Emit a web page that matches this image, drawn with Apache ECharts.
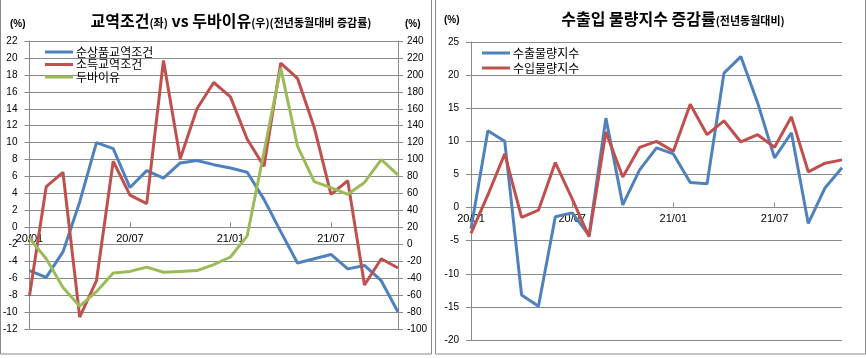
<!DOCTYPE html>
<html><head><meta charset="utf-8">
<script src="https://cdn.jsdelivr.net/npm/echarts@6/dist/echarts.min.js"></script>
<style>html,body{margin:0;padding:0;background:#fff;}#c{width:866px;height:358px;}</style>
</head><body><div id="c"></div>
<script>
const categories = ['20/01','20/02','20/03','20/04','20/05','20/06','20/07','20/08','20/09','20/10','20/11','20/12',
  '21/01','21/02','21/03','21/04','21/05','21/06','21/07','21/08','21/09','21/10','21/11'];
// Left chart
const netTerms   = [-5.1,-5.9,-2.9,3.0,10.0,9.3,4.7,6.7,5.8,7.6,7.9,7.4,7.0,6.5,3.3,-0.5,-4.2,-3.7,-3.2,-4.9,-4.5,-6.3,-10.0];
const incomeTerms= [-8.1,4.8,6.5,-10.6,-6.3,7.8,3.8,2.8,19.7,8.1,14.0,17.1,15.4,10.4,7.2,19.4,17.6,11.8,3.9,5.5,-6.8,-3.7,-4.8];
const dubai      = [7,-17,-51,-73,-56,-34,-32,-27,-33,-32,-31,-24,-15,10,109,208,116,74,67,59,73,100,82];
const leftTicks  = {min:-12, max:22, interval:2};
const rightTicks = {min:-100, max:240, interval:20};
// Right chart
const exportVol  = [-3.2,11.6,10.0,-13.2,-14.9,-1.4,-0.8,-4.2,13.5,0.4,5.7,9.0,8.1,3.8,3.6,20.3,22.8,15.8,7.5,11.3,-2.4,3.0,6.0];
const importVol  = [-3.9,1.9,8.1,-1.5,-0.4,6.8,1.3,-4.4,11.4,4.6,9.1,10.0,8.5,15.6,11.0,13.1,9.9,11.0,9.1,13.7,5.4,6.7,7.2];
const volTicks   = {min:-20, max:25, interval:5};
const seriesNamesL = ['순상품교역조건','소득교역조건','두바이유'];
const seriesNamesR = ['수출물량지수','수입물량지수'];

const BLUE='#4F81BD', RED='#C0504D', GREEN='#9BBB59', GRID='#8a8a8a';
const numFont = 'Liberation Sans';
const krFont = 'Noto Sans CJK KR';
const W=866, H=358;
const g0 = {left:28, right:468, top:41, bottom:29};
const g1 = {left:471, right:24, top:42, bottom:18};
// place the category axis at the value 0 of the grid's primary value axis
const zeroOffset = (g, t) => -((0 - t.min) / (t.max - t.min)) * (H - g.top - g.bottom);

const chart = echarts.init(document.getElementById('c'), null, {renderer:'canvas'});
const catAxis = (gi, off) => ({
  type:'category', gridIndex:gi, data:categories, boundaryGap:false, position:'bottom', offset:off,
  axisLine:{onZero:false, lineStyle:{color:GRID,width:1}},
  axisTick:{inside:true, interval:5, length:5, alignWithLabel:true, lineStyle:{color:GRID}},
  axisLabel:{interval:5, color:'#000', fontSize:11, fontFamily:numFont, margin:6},
  splitLine:{show:false}
});
const line = (name, data, color, xi, yi) => ({
  name, type:'line', data, xAxisIndex:xi, yAxisIndex:yi, showSymbol:false, symbol:'none',
  lineStyle:{color, width:3}, itemStyle:{color}, animation:false
});
chart.setOption({
  animation:false,
  textStyle:{fontFamily:krFont},
  title:[
    {text:'{a|교역조건}{b|(좌)}{a| vs 두바이유}{b|(우)(전년동월대비 증감률)}', left:226, top:8, textAlign:'center',
     textStyle:{rich:{a:{fontSize:16,fontWeight:'bold',fontFamily:krFont,color:'#000'},b:{fontSize:11,fontFamily:krFont,color:'#000',padding:[3,0,0,0]}}}},
    {text:'{a|수출입 물량지수 증감률}{b|(전년동월대비)}', left:668, top:6, textAlign:'center',
     textStyle:{rich:{a:{fontSize:16,fontFamily:krFont,fontWeight:'bold',color:'#000'},b:{fontSize:11,fontFamily:krFont,fontWeight:'bold',color:'#000',padding:[3,0,0,0]}}}}
  ],
  legend:[
    {data:seriesNamesL, orient:'vertical', left:40, top:41, itemWidth:28, itemHeight:3, itemGap:0.5, icon:'rect',
     textStyle:{fontSize:12, fontFamily:krFont, color:'#000', padding:[0,0,0,-2]}},
    {data:seriesNamesR, orient:'vertical', left:477, top:42, itemWidth:28, itemHeight:3, itemGap:3, icon:'rect',
     textStyle:{fontSize:12, fontFamily:krFont, color:'#000', padding:[0,0,0,-2]}}
  ],
  grid:[g0, g1],
  xAxis:[catAxis(0, zeroOffset(g0, leftTicks)), catAxis(1, zeroOffset(g1, volTicks))],
  yAxis:[
    {type:'value', gridIndex:0, min:leftTicks.min, max:leftTicks.max, interval:leftTicks.interval,
     axisLine:{show:true, onZero:false, lineStyle:{color:GRID}}, axisTick:{show:true, length:5, lineStyle:{color:GRID}},
     axisLabel:{color:'#000', fontSize:10, fontFamily:numFont, margin:12},
     splitLine:{lineStyle:{color:GRID, width:1}}},
    {type:'value', gridIndex:0, min:rightTicks.min, max:rightTicks.max, interval:rightTicks.interval, position:'right',
     axisLine:{show:true, onZero:false, lineStyle:{color:GRID}}, axisTick:{show:true, length:5, lineStyle:{color:GRID}},
     axisLabel:{color:'#000', fontSize:10, fontFamily:numFont, margin:9},
     splitLine:{show:false}},
    {type:'value', gridIndex:1, min:volTicks.min, max:volTicks.max, interval:volTicks.interval,
     axisLine:{show:true, onZero:false, lineStyle:{color:GRID}}, axisTick:{show:true, length:5, lineStyle:{color:GRID}},
     axisLabel:{color:'#000', fontSize:10, fontFamily:numFont, margin:12},
     splitLine:{lineStyle:{color:GRID, width:1}}}
  ],
  series:[
    line(seriesNamesL[0], netTerms, BLUE, 0, 0),
    line(seriesNamesL[1], incomeTerms, RED, 0, 0),
    line(seriesNamesL[2], dubai, GREEN, 0, 1),
    line(seriesNamesR[0], exportVol, BLUE, 1, 2),
    line(seriesNamesR[1], importVol, RED, 1, 2)
  ],
  graphic:[
    {type:'rect', shape:{x:0.5, y:-2, width:431, height:356}, style:{fill:'none', stroke:'#8a8a8a', lineWidth:1}, silent:true},
    {type:'rect', shape:{x:435.5, y:-2, width:430, height:356}, style:{fill:'none', stroke:'#8a8a8a', lineWidth:1}, silent:true},
    {type:'text', left:10, top:19, style:{text:'(%)', font:'bold 10px '+numFont, fill:'#000'}},
    {type:'text', left:405, top:19, style:{text:'(%)', font:'bold 10px '+numFont, fill:'#000'}},
    {type:'text', left:444, top:15, style:{text:'(%)', font:'bold 10px '+numFont, fill:'#000'}}
  ]
});
</script></body></html>
